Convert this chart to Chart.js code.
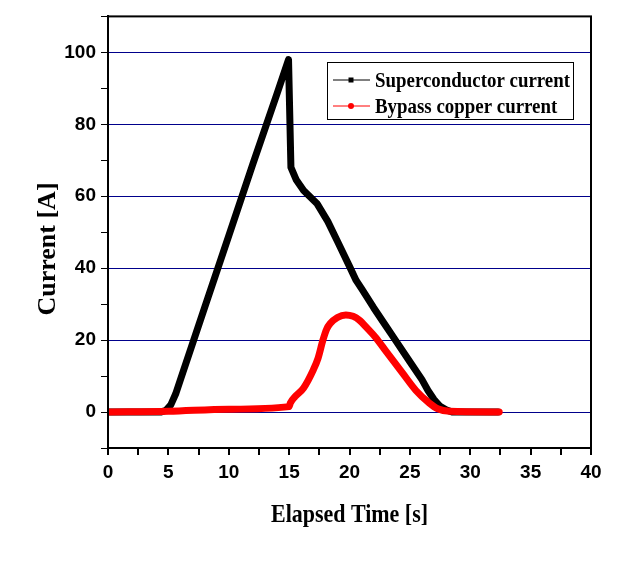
<!DOCTYPE html>
<html>
<head>
<meta charset="utf-8">
<script src="https://cdn.jsdelivr.net/npm/chart.js@4"></script>
<style>
  html, body { margin: 0; padding: 0; background: #fff; }
  #wrap { width: 624px; height: 568px; }
</style>
</head>
<body>
<div id="wrap"><canvas id="myChart" width="624" height="568"></canvas></div>
<script>
// values
const scTime = [0, 4.4, 4.8, 5.2, 5.6, 6, 8, 10, 12, 14, 14.95, 15.15, 15.6, 16.2, 17.3, 18.2, 19, 20, 20.55, 21, 22, 23, 23.8, 25, 26, 26.5, 27, 27.5, 28, 28.5, 32.3];
const scCurrent = [0, 0, 0.5, 2, 5, 9, 29, 49, 69, 88.5, 98, 68, 64.5, 61.6, 58, 53, 47.5, 40.5, 36.6, 34.3, 29, 24, 20, 14, 9, 6, 3.5, 1.6, 0.6, 0, 0];
const cuTime = [0, 5, 10, 15, 15.1, 15.5, 16.2, 17, 17.4, 17.8, 18.1, 18.4, 19, 19.7, 20.3, 20.8, 21.5, 22.2, 23, 24.4, 25.5, 26.6, 27.3, 28.3, 32.4];
const cuCurrent = [0, 0.2, 0.8, 1.5, 2.5, 4.3, 6.7, 11.7, 15, 20, 23, 24.6, 26.3, 27, 26.6, 25.6, 23.2, 20.6, 17, 10.8, 6, 2.5, 0.9, 0.2, 0];
const seriesNames = ['Superconductor current', 'Bypass copper current'];
const xTitle = 'Elapsed Time [s]';
const yTitle = 'Current [A]';

const toPts = (xs, ys) => xs.map((x, i) => ({ x: x, y: ys[i] }));

// frame on top/right, custom legend box and axis titles
const extras = {
    id: 'extras',
    afterDraw(chart) {
        const c = chart.ctx;
        const a = chart.chartArea;
        c.save();
        c.strokeStyle = '#000';
        c.lineWidth = 2;
        c.strokeRect(a.left, a.top, a.right - a.left, a.bottom - a.top);

        // legend
        c.lineWidth = 1;
        c.strokeRect(327.5, 62.5, 246, 57);
        const rows = [
            { y: 80, color: '#000', marker: 'square' },
            { y: 106, color: '#ff0000', marker: 'circle' }
        ];
        c.font = 'bold 22px "Liberation Serif"';
        const squeeze = 195 / c.measureText(seriesNames[0]).width;
        rows.forEach((r, i) => {
            c.strokeStyle = r.color;
            c.fillStyle = r.color;
            c.beginPath();
            c.moveTo(333, r.y);
            c.lineTo(370, r.y);
            c.stroke();
            c.beginPath();
            if (r.marker === 'square') c.rect(348.5, r.y - 2.5, 5, 5);
            else c.arc(351, r.y, 3, 0, Math.PI * 2);
            c.fill();
            c.fillStyle = '#000';
            c.textBaseline = 'middle';
            c.textAlign = 'left';
            const w = c.measureText(seriesNames[i]).width * squeeze;
            c.fillText(seriesNames[i], 375, r.y + 1, w);
        });

        // axis titles
        c.font = 'bold 26px "Liberation Serif"';
        c.fillStyle = '#000';
        c.textAlign = 'center';
        c.textBaseline = 'middle';
        c.fillText(xTitle, (a.left + a.right) / 2, 515, 157);
        c.translate(48, 249);
        c.rotate(-Math.PI / 2);
        c.fillText(yTitle, 0, 0, 135);
        c.restore();
    }
};

const ctx = document.getElementById('myChart');
new Chart(ctx, {
    type: 'line',
    data: {
        datasets: [{
            label: seriesNames[0],
            data: toPts(scTime, scCurrent),
            borderColor: '#000',
            borderWidth: 7,
            pointRadius: 0,
            borderJoinStyle: 'round',
            borderCapStyle: 'round',
            tension: 0,
            order: 1
        }, {
            label: seriesNames[1],
            data: toPts(cuTime, cuCurrent),
            borderColor: '#ff0000',
            borderWidth: 7,
            pointRadius: 0,
            borderJoinStyle: 'round',
            borderCapStyle: 'round',
            cubicInterpolationMode: 'monotone',
            order: 0
        }]
    },
    options: {
        responsive: false,
        animation: false,
        layout: { padding: { left: 0, right: 33, top: 16, bottom: 0 } },
        plugins: {
            legend: { display: false },
            tooltip: { enabled: false }
        },
        scales: {
            x: {
                type: 'linear',
                min: 0,
                max: 40,
                afterFit: s => { s.height = 120; },
                border: { color: '#000', width: 2 },
                grid: { drawOnChartArea: false, tickColor: '#000', tickLength: 7, lineWidth: 2 },
                ticks: {
                    stepSize: 2.5,
                    autoSkip: false,
                    maxRotation: 0,
                    padding: 6,
                    color: '#000',
                    font: { family: '"Liberation Sans"', weight: 'bold', size: 19 },
                    callback: v => (v % 5 === 0 ? v : '')
                }
            },
            y: {
                min: -10,
                max: 110,
                afterFit: s => { s.width = 108; },
                border: { color: '#000', width: 2 },
                grid: {
                    color: c => (c.tick && c.tick.value % 20 === 0 && c.tick.value >= 0 && c.tick.value <= 100) ? '#00008b' : 'rgba(0,0,0,0)',
                    tickColor: '#000',
                    tickLength: 7,
                    lineWidth: 1
                },
                ticks: {
                    stepSize: 10,
                    autoSkip: false,
                    padding: 5,
                    color: '#000',
                    font: { family: '"Liberation Sans"', weight: 'bold', size: 19 },
                    callback: v => (v % 20 === 0 && v >= 0 && v <= 100 ? v : '')
                }
            }
        }
    },
    plugins: [extras]
});
</script>
</body>
</html>
